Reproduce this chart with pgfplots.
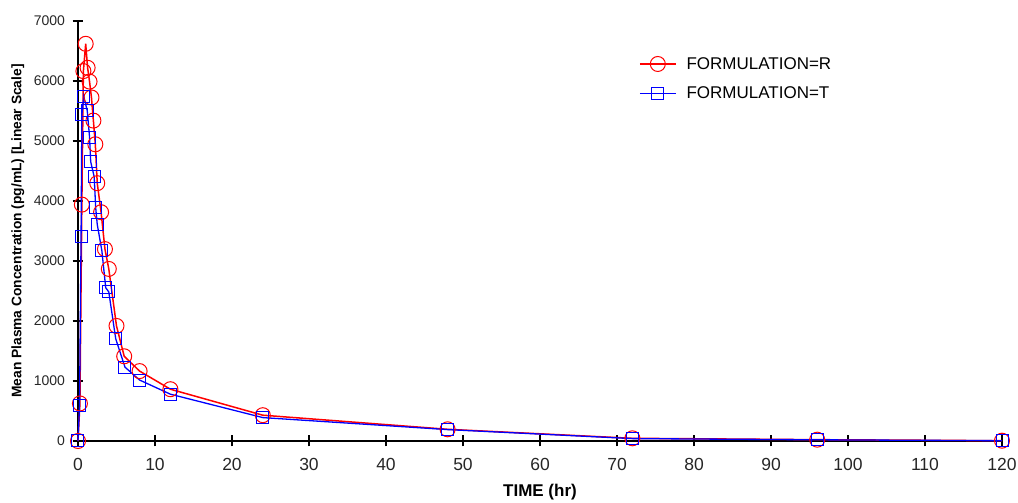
\documentclass[border=0pt]{standalone}
\usepackage{fontspec}
\setmainfont{Liberation Sans}
\usepackage{pgfplots}
\pgfplotsset{compat=1.18}

\pgfplotstableread{
t c
0 0
0.25 626
0.5 3940
0.7 6165
1 6620
1.25 6220
1.5 5990
1.75 5725
2 5340
2.25 4945
2.5 4297
3 3813
3.5 3198
4 2868
5 1918
6 1412
8 1165
12 863
24 430
48 195
72 45
96 22
120 5
}\formR

\pgfplotstableread{
t c
0 0
0.2 588
0.4 3407
0.5 5434
0.75 5742
1.2 5505
1.5 5066
1.65 4654
2.1 4407
2.3 3885
2.5 3610
3.1 3170
3.6 2555
4 2484
4.9 1703
6.1 1231
8 1016
12 780
24 390
48 190
72 40
96 20
120 5
}\formT

\begin{document}
\begin{tikzpicture}
\begin{axis}[
  scale only axis,
  width=924pt, height=420pt,
  xmin=0, xmax=120, ymin=0, ymax=7000,
  xtick={0,10,...,120}, ytick={0,1000,...,7000},
  axis x line=bottom, axis y line=left,
  axis line style={-, black, line width=1.6pt},
  xtick align=center, ytick align=center,
  major tick length=11pt,
  xtick style={draw=black, line width=1.3pt},
  ytick style={draw=black, line width=1.3pt},
  /pgf/number format/assume math mode=true,
  scaled y ticks=false,
  yticklabel style={/pgf/number format/1000 sep={}, font=\fontsize{14}{16}\selectfont, text=black!85, xshift=-4pt},
  xticklabel style={font=\fontsize{17.5}{19}\selectfont, text=black!85, yshift=-8pt},
  xlabel={\textbf{TIME (hr)}},
  ylabel={\textbf{Mean Plasma Concentration (pg/mL) [Linear Scale]}},
  xlabel style={font=\fontsize{17}{19}\selectfont, at={(axis description cs:0.5,-0.122)}, anchor=center},
  ylabel style={font=\fontsize{13.8}{15}\selectfont, at={(axis description cs:-0.065,0.5)}, anchor=center},
  legend style={at={(0.607,0.916)}, anchor=north west, draw=none, fill=none,
    font=\fontsize{17}{19}\selectfont, row sep=15pt, inner sep=0pt,
    nodes={inner xsep=10pt, inner ysep=0pt}},
  legend cell align=left,
  legend image code/.code={\draw[mark repeat=2,mark phase=2,#1] plot coordinates {(0pt,0pt) (18pt,0pt) (36pt,0pt)};},
  clip=false,
]
\addplot[red, line width=1.5pt, mark=o, mark size=7.5pt, mark options={red, line width=1pt, fill=none}] table[x=t,y=c] {\formR};
\addlegendentry{FORMULATION=R}
\addplot[blue, line width=1.3pt, mark=square, mark size=6pt, mark options={blue, line width=1pt, fill=none}] table[x=t,y=c] {\formT};
\addlegendentry{FORMULATION=T}
\end{axis}
\pgfresetboundingbox
\path (-78pt,-62pt) rectangle (940pt,441pt);
\end{tikzpicture}
\end{document}
